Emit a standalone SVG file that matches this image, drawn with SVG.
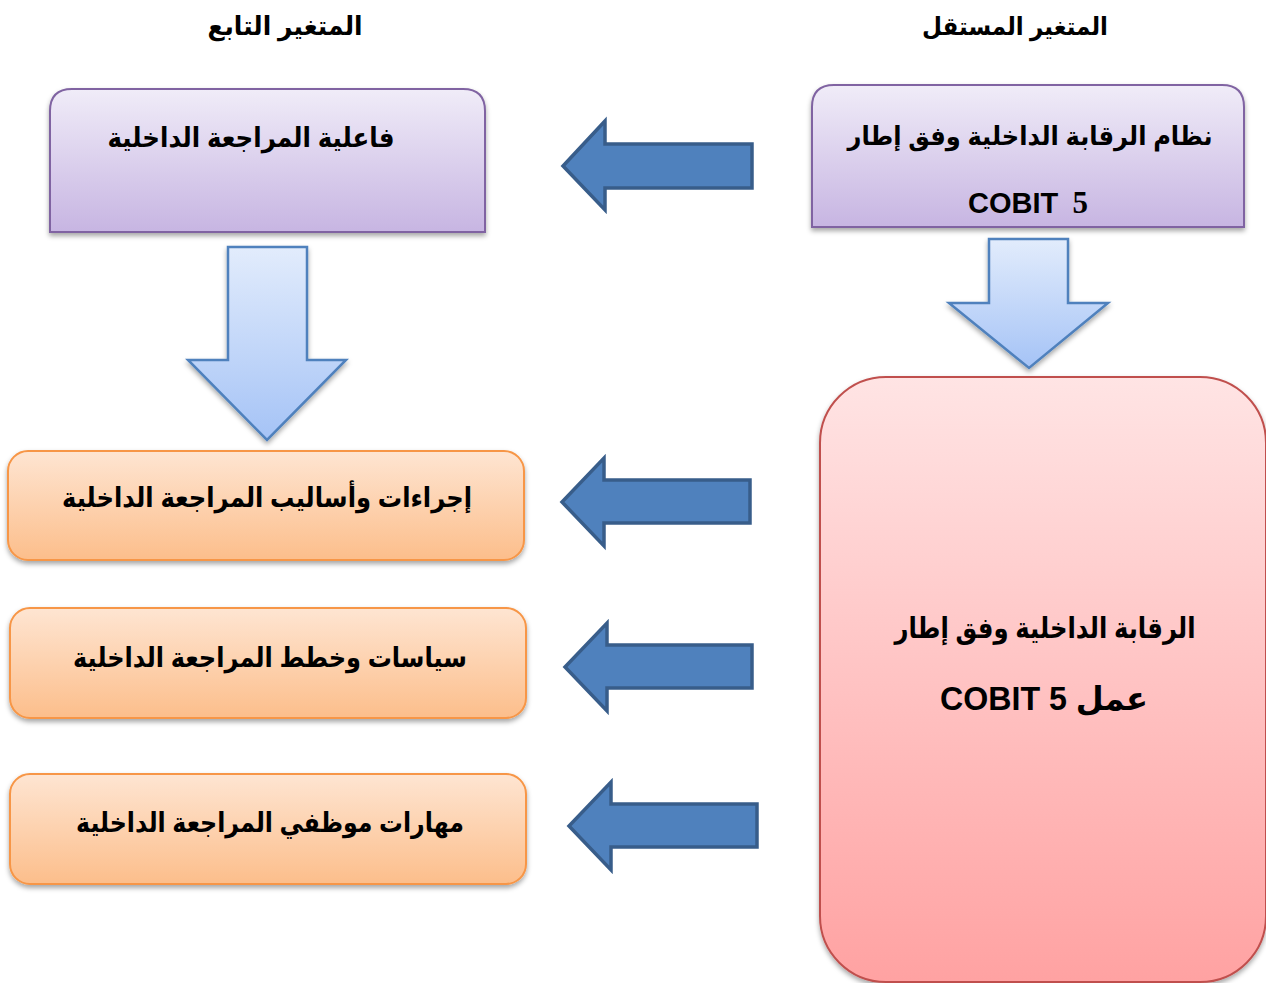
<svg xmlns="http://www.w3.org/2000/svg" width="1266" height="983" viewBox="0 0 1266 983">
<defs>
<linearGradient id="gPurple" x1="0" y1="0" x2="0" y2="1"><stop offset="0" stop-color="#f0ecf8"/><stop offset="1" stop-color="#c7b5e2"/></linearGradient>
<linearGradient id="gOrange" x1="0" y1="0" x2="0" y2="1"><stop offset="0" stop-color="#fee5d2"/><stop offset="1" stop-color="#fcbe8b"/></linearGradient>
<linearGradient id="gPink" x1="0" y1="0" x2="0" y2="1"><stop offset="0" stop-color="#ffe4e4"/><stop offset="1" stop-color="#ffa2a2"/></linearGradient>
<linearGradient id="gBlue" x1="0" y1="0" x2="0" y2="1"><stop offset="0" stop-color="#e2ecfc"/><stop offset="1" stop-color="#a5c3f6"/></linearGradient>
<filter id="sh" x="-10%" y="-10%" width="120%" height="130%"><feDropShadow dx="0" dy="3" stdDeviation="2.5" flood-color="#000" flood-opacity="0.35"/></filter>
</defs>
<style>
.t{font-family:"Liberation Sans","DejaVu Sans",sans-serif;font-weight:bold;fill:#000;text-anchor:middle}
.purple{fill:url(#gPurple);stroke:#8064a2;stroke-width:2}
.orange{fill:url(#gOrange);stroke:#f79646;stroke-width:2}
.pink{fill:url(#gPink);stroke:#c0504d;stroke-width:2}
.la{fill:#4f81bd;stroke:#385d8a;stroke-width:3.5;stroke-linejoin:miter}
.da{fill:url(#gBlue);stroke:#4f81bd;stroke-width:2.5}
</style>
<g id="headers">
<text class="t" x="285" y="35" font-size="26" direction="rtl" textLength="155" lengthAdjust="spacingAndGlyphs">المتغير التابع</text>
<text class="t" x="1015" y="35" font-size="25" direction="rtl" textLength="186" lengthAdjust="spacingAndGlyphs">المتغير المستقل</text>
</g>
<g id="node-internal-control">
<path class="purple" filter="url(#sh)" d="M812,227 V107 Q812,85 834,85 H1222 Q1244,85 1244,107 V227 Z"/>
<text class="t" x="1030" y="145" font-size="26" direction="rtl" textLength="365" lengthAdjust="spacingAndGlyphs">نظام الرقابة الداخلية وفق إطار</text>
<text class="t" x="1028" y="213" font-size="29">COBIT <tspan dx="6" font-family="Liberation Serif" font-size="31">5</tspan></text>
</g>
<g id="node-audit-effectiveness">
<path class="purple" filter="url(#sh)" d="M50,232 V111 Q50,89 72,89 H463 Q485,89 485,111 V232 Z"/>
<text class="t" x="251" y="147" font-size="27" direction="rtl" textLength="287" lengthAdjust="spacingAndGlyphs">فاعلية المراجعة الداخلية</text>
</g>
<g id="node-cobit-control">
<rect class="pink" filter="url(#sh)" x="820" y="377" width="446" height="605" rx="66" ry="66"/>
<text class="t" x="1045" y="638" font-size="29" direction="rtl" textLength="301" lengthAdjust="spacingAndGlyphs">الرقابة الداخلية وفق إطار</text>
<text class="t" x="1044" y="710" font-size="33" direction="rtl" textLength="208" lengthAdjust="spacingAndGlyphs">عمل COBIT 5</text>
</g>
<g id="node-procedures">
<rect class="orange" filter="url(#sh)" x="8" y="451" width="516" height="109" rx="20" ry="20"/>
<text class="t" x="267" y="507" font-size="27" direction="rtl" textLength="410" lengthAdjust="spacingAndGlyphs">إجراءات وأساليب المراجعة الداخلية</text>
</g>
<g id="node-policies">
<rect class="orange" filter="url(#sh)" x="10" y="608" width="516" height="110" rx="20" ry="20"/>
<text class="t" x="270" y="667" font-size="27" direction="rtl" textLength="394" lengthAdjust="spacingAndGlyphs">سياسات وخطط المراجعة الداخلية</text>
</g>
<g id="node-skills">
<rect class="orange" filter="url(#sh)" x="10" y="774" width="516" height="110" rx="20" ry="20"/>
<text class="t" x="270" y="832" font-size="27" direction="rtl" textLength="388" lengthAdjust="spacingAndGlyphs">مهارات موظفي المراجعة الداخلية</text>
</g>
<g id="connectors">
<path class="la" d="M752,144 H605 V121 L563,166 L605,210 V188 H752 Z"/>
<path class="la" d="M750,480 H604 V458 L562,502 L604,546 V523 H750 Z"/>
<path class="la" d="M752,645 H607 V623 L565,667 L607,711 V688 H752 Z"/>
<path class="la" d="M757,804 H611 V782 L569,826 L611,870 V847 H757 Z"/>
<path class="da" filter="url(#sh)" d="M228,247 H307 V360 H346 L267,440 L188,360 H228 Z"/>
<path class="da" filter="url(#sh)" d="M989,239 H1068 V303 H1108 L1029,368 L949,303 H989 Z"/>
</g>
</svg>
